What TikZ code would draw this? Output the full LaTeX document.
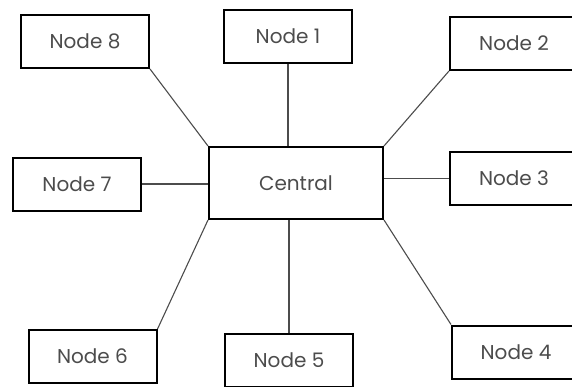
\documentclass[tikz,border=0pt]{standalone}
\usepackage{fontspec}
\setmainfont{Poppins}
\usetikzlibrary{positioning}

\begin{document}
\begin{tikzpicture}[x=1pt, y=-1pt, font=\fontsize{20}{24}\selectfont,
box/.style={draw, line width=2pt, text=black!70, minimum width=128pt, minimum height=53pt, inner sep=0pt},
hub/.style={box, minimum width=174pt, minimum height=72pt},
link/.style={draw=black!70, line width=1.1pt}]
\useasboundingbox (0,0) rectangle (572,386);
\clip (0,0) rectangle (572,386);
\node[hub] (c) at (296,183) {Central};
\node[box] (n1) at (288,36.5) {Node 1};
\node[box] (n2) at (514,43.5) {Node 2};
\node[box] (n3) at (514,178.5) {Node 3};
\node[box] (n4) at (516,352) {Node 4};
\node[box] (n5) at (289,360) {Node 5};
\node[box] (n6) at (92.5,356.5) {Node 6};
\node[box] (n7) at (77,184) {Node 7};
\node[box] (n8) at (85,41.5) {Node 8};
\draw[link] (n1.south) -- (n1.south |- c.north);
\draw[link] (n5.north) -- (n5.north |- c.south);
\draw[link] (n7.east) -- (n7.east -| c.west);
\draw[link] (n3.west) -- (n3.west -| c.east);
\draw[link] (n8.south east) -- (c.north west);
\draw[link] (n2.south west) -- (c.north east);
\draw[link] (n6.north east) -- (c.south west);
\draw[link] (n4.north west) -- (c.south east);
\end{tikzpicture}
\end{document}
